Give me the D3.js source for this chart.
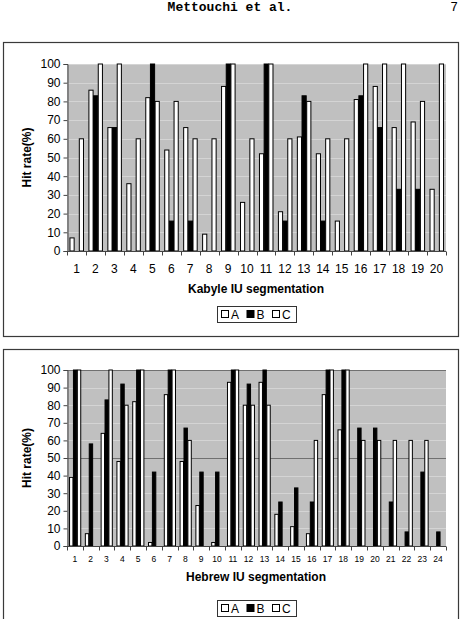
<!doctype html>
<html>
<head>
<script src="https://d3js.org/d3.v7.min.js"></script>
<style>
  body { margin: 0; background: #fff; }
  svg { display: block; font-family: "Liberation Sans", Arial, sans-serif; }
  .hdr { font-family: "Liberation Mono", "DejaVu Sans Mono", monospace; font-weight: bold; font-size: 13px; }
  .axt { font-weight: bold; font-size: 12px; }
</style>
</head>
<body>
<script>
// ---- data ----
var series = ["A", "B", "C"];

var kabyleCats = d3.range(1, 21).map(String);
var kabyleA = [7, 86, 66, 36, 82, 54, 66, 9, 88, 26, 52, 21, 61, 52, 16, 81, 88, 66, 69, 33];
var kabyleB = [0, 83, 66, 0, 100, 16, 16, 0, 100, 0, 100, 16, 83, 16, 0, 83, 66, 33, 33, 0];
var kabyleC = [60, 100, 100, 60, 80, 80, 60, 60, 100, 60, 100, 60, 80, 60, 60, 100, 100, 100, 80, 100];

var hebrewCats = d3.range(1, 25).map(String);
var hebrewA = [39, 7, 64, 48, 82, 2, 86, 48, 23, 2, 93, 80, 93, 18, 11, 7, 86, 66, 0, 0, 0, 0, 0, 0];
var hebrewB = [100, 58, 83, 92, 100, 42, 100, 67, 42, 42, 100, 92, 100, 25, 33, 25, 100, 100, 67, 67, 25, 8, 42, 8];
var hebrewC = [100, 0, 100, 80, 100, 0, 100, 60, 0, 0, 100, 80, 80, 0, 0, 60, 100, 100, 60, 60, 60, 60, 60, 0];

var yTicks = d3.range(0, 101, 10);
var fills = { A: "#ffffff", B: "#000000", C: "#ffffff" };

var W = 460, H = 619;
var svg = d3.select("body").append("svg").attr("width", W).attr("height", H);

// page header
svg.append("text").attr("class", "hdr").attr("x", 230).attr("y", 11).attr("text-anchor", "middle").text("Mettouchi et al.");
svg.append("text").attr("class", "hdr").attr("x", 458).attr("y", 11).attr("text-anchor", "end").style("font-weight", "normal").text("7");

function drawChart(cfg) {
  var g = svg.append("g");
  // outer frame
  g.append("rect").attr("x", cfg.frame[0] + 0.5).attr("y", cfg.frame[1] + 0.5)
    .attr("width", cfg.frame[2]).attr("height", cfg.frame[3])
    .attr("fill", "#fff").attr("stroke", "#3a3a3a").attr("stroke-width", 1.2);

  var x0 = d3.scaleBand().domain(cfg.cats).range([cfg.left, cfg.right]);
  var bw = x0.bandwidth();
  var x1 = d3.scaleBand().domain(series).range([bw * 0.13, bw * 0.87]);
  var y = d3.scaleLinear().domain([0, 100]).range([cfg.bottom, cfg.top]);

  // plot background
  g.append("rect").attr("x", cfg.left).attr("y", cfg.top)
    .attr("width", cfg.right - cfg.left).attr("height", cfg.bottom - cfg.top)
    .attr("fill", "#c0c0c0");

  // gridlines
  g.append("g").selectAll("line").data(yTicks.slice(1)).join("line")
    .attr("x1", cfg.left).attr("x2", cfg.right)
    .attr("y1", d => Math.round(y(d)) + 0.5).attr("y2", d => Math.round(y(d)) + 0.5)
    .attr("stroke", d => cfg.mark50 && (d === 50 || d === 100) ? "#707070" : "#d4d4d4")
    .attr("stroke-width", 1);

  // bars
  var rows = cfg.cats.map((c, i) => ({ cat: c, vals: series.map((s, j) => ({ s: s, v: cfg.data[j][i] })) }));
  var grp = g.append("g").selectAll("g").data(rows).join("g")
    .attr("transform", d => "translate(" + x0(d.cat) + ",0)");
  grp.selectAll("rect").data(d => d.vals).join("rect")
    .attr("x", d => x1(d.s) + 0.5)
    .attr("y", d => y(d.v))
    .attr("width", x1.bandwidth() - 0.5)
    .attr("height", d => y(0) - y(d.v))
    .attr("fill", d => fills[d.s])
    .attr("stroke", "#000").attr("stroke-width", 1);

  // axes
  var yAxis = d3.axisLeft(y).tickValues(yTicks).tickSize(4).tickPadding(3);
  var ya = g.append("g").attr("transform", "translate(" + (cfg.left + 0.5) + ",0)").call(yAxis);
  ya.selectAll("text").style("font-size", "12px").attr("fill", "#000");
  ya.selectAll("line, path").attr("stroke", "#444");

  var xa = g.append("g").attr("transform", "translate(0," + (Math.round(cfg.bottom) + 0.5) + ")");
  xa.append("line").attr("x1", cfg.left).attr("x2", cfg.right).attr("stroke", "#444");
  xa.selectAll(".tk").data(cfg.cats.concat(["end"])).join("line")
    .attr("x1", (d, i) => Math.round(cfg.left + i * bw) + 0.5)
    .attr("x2", (d, i) => Math.round(cfg.left + i * bw) + 0.5)
    .attr("y1", 0).attr("y2", 4).attr("stroke", "#444");
  xa.selectAll("text").data(cfg.cats).join("text")
    .attr("x", d => x0(d) + bw / 2).attr("y", cfg.xLabDy)
    .attr("text-anchor", "middle").attr("fill", "#000")
    .style("font-size", cfg.xFont).text(d => d);

  // axis titles
  g.append("text").attr("class", "axt")
    .attr("transform", "translate(" + 31 + "," + ((cfg.top + cfg.bottom) / 2) + ") rotate(-90)")
    .attr("text-anchor", "middle").text("Hit rate(%)");
  g.append("text").attr("class", "axt").attr("x", 256).attr("y", cfg.xTitleY)
    .attr("text-anchor", "middle").text(cfg.xTitle);

  // legend
  var lg = g.append("g").attr("transform", "translate(" + cfg.legend[0] + "," + cfg.legend[1] + ")");
  lg.append("rect").attr("x", 0.5).attr("y", 0.5).attr("width", 79).attr("height", 16)
    .attr("fill", "#fff").attr("stroke", "#333");
  var items = lg.selectAll("g").data(series).join("g")
    .attr("transform", (d, i) => "translate(" + (4 + i * 25.5) + ",0)");
  items.append("rect").attr("x", 0.5).attr("y", 4.5).attr("width", 7).attr("height", 7)
    .attr("fill", d => fills[d]).attr("stroke", "#000");
  items.append("text").attr("x", 10).attr("y", 12.5).style("font-size", "12px").text(d => d);
}

drawChart({
  frame: [3, 42, 455, 294],
  left: 67, right: 446, top: 64, bottom: 251,
  cats: kabyleCats, data: [kabyleA, kabyleB, kabyleC],
  xFont: "12px", xLabDy: 21,
  xTitle: "Kabyle IU segmentation", xTitleY: 293,
  legend: [217, 306], mark50: false
});

drawChart({
  frame: [3, 349, 455, 280],
  left: 67, right: 446, top: 370, bottom: 546,
  cats: hebrewCats, data: [hebrewA, hebrewB, hebrewC],
  xFont: "8.5px", xLabDy: 15,
  xTitle: "Hebrew IU segmentation", xTitleY: 581,
  legend: [217, 600], mark50: true
});
</script>
</body>
</html>
